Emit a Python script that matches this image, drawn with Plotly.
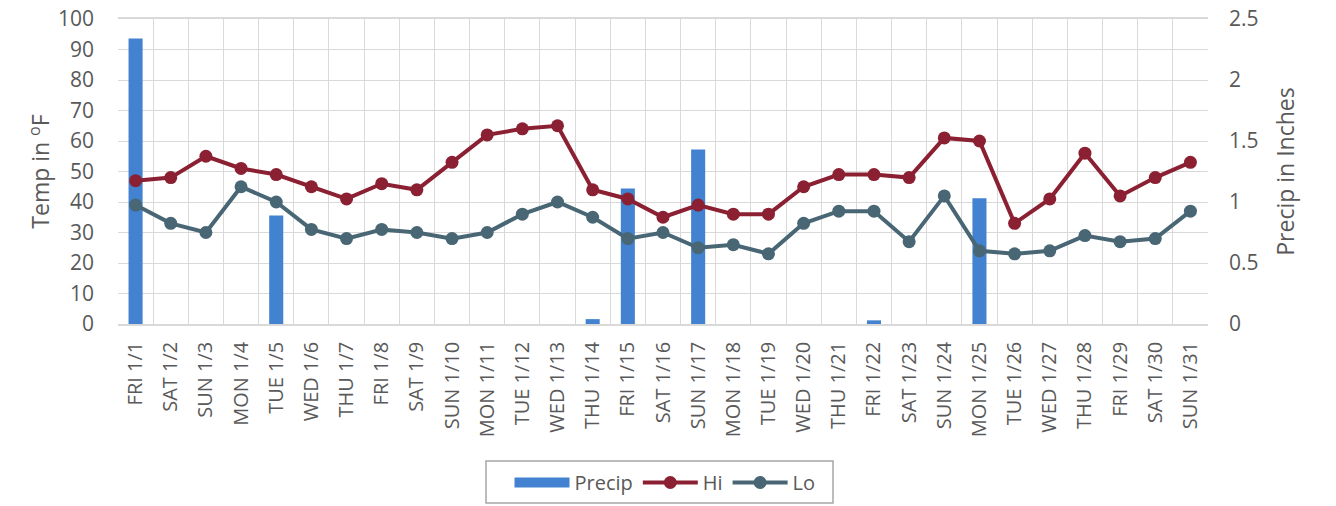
import plotly.graph_objects as go

days = ["FRI 1/1","SAT 1/2","SUN 1/3","MON 1/4","TUE 1/5","WED 1/6","THU 1/7","FRI 1/8","SAT 1/9","SUN 1/10",
        "MON 1/11","TUE 1/12","WED 1/13","THU 1/14","FRI 1/15","SAT 1/16","SUN 1/17","MON 1/18","TUE 1/19","WED 1/20",
        "THU 1/21","FRI 1/22","SAT 1/23","SUN 1/24","MON 1/25","TUE 1/26","WED 1/27","THU 1/28","FRI 1/29","SAT 1/30","SUN 1/31"]
hi = [47,48,55,51,49,45,41,46,44,53,62,64,65,44,41,35,39,36,36,45,49,49,48,61,60,33,41,56,42,48,53]
lo = [39,33,30,45,40,31,28,31,30,28,30,36,40,35,28,30,25,26,23,33,37,37,27,42,24,23,24,29,27,28,37]
precip = [2.34,0,0,0,0.89,0,0,0,0,0,0,0,0,0.04,1.11,0,1.43,0,0,0,0,0.03,0,0,1.03,0,0,0,0,0,0]

FONT = "Open Sans"
GRAY = "#595959"
GRID = "#D9D9D9"
BLUE = "#4282D0"
RED = "#8B2032"
SLATE = "#486674"

# page body has an 8px default margin; size the figure to fit the 1336x506 window
W, H = 1328, 498

fig = go.Figure()
fig.add_trace(go.Bar(x=days, y=precip, name="Precip", marker=dict(color=BLUE, line=dict(width=0)),
                     width=0.4, yaxis="y", showlegend=False))
# legend glyph for Precip (wide rectangle as in the reference)
fig.add_trace(go.Scatter(x=[None], y=[None], name="Precip", mode="lines", yaxis="y",
                         line=dict(color=BLUE, width=14)))
fig.add_trace(go.Scatter(x=days, y=hi, name="Hi", mode="lines+markers", yaxis="y2",
                         line=dict(color=RED, width=4), marker=dict(size=13, color=RED)))
fig.add_trace(go.Scatter(x=days, y=lo, name="Lo", mode="lines+markers", yaxis="y2",
                         line=dict(color=SLATE, width=4), marker=dict(size=13, color=SLATE)))

fig.update_layout(
    width=W, height=H, autosize=False,
    margin=dict(l=110, r=128, t=11, b=182, autoexpand=False),
    paper_bgcolor="white", plot_bgcolor="white",
    font=dict(family=FONT, color=GRAY),
    showlegend=True,
    legend=dict(orientation="h", xref="container", yref="container",
                x=657 / W, xanchor="center", y=1 - 455 / H, yanchor="top",
                bgcolor="rgba(0,0,0,0)", borderwidth=0, font=dict(size=20, color=GRAY),
                traceorder="normal", itemwidth=55),
    shapes=[dict(type="rect", xref="paper", yref="paper",
                 x0=(486 - 118) / 1090, x1=(833 - 118) / 1090,
                 y0=(324 - 503) / 305, y1=(324 - 461) / 305,
                 line=dict(color="#A6A6A6", width=1.5), fillcolor="rgba(0,0,0,0)", layer="above")],
    xaxis=dict(type="category", range=[-0.5, 30.5], tickson="boundaries", showgrid=True,
               gridcolor=GRID, gridwidth=1, tickangle=-90, tickfont=dict(size=20, color=GRAY),
               showline=True, linecolor=GRID, linewidth=1.5, mirror=True, ticks="",
               ticklabelstandoff=8, automargin=False),
    yaxis=dict(range=[0, 2.5], side="right", dtick=0.5, showgrid=False, zeroline=False,
               tickfont=dict(size=21, color=GRAY), ticklabelstandoff=20, automargin=False,
               ticklabeloverflow="allow",
               title=dict(text="Precip in Inches", font=dict(size=23, color=GRAY), standoff=20)),
    yaxis2=dict(range=[0, 100], side="left", overlaying="y", dtick=10, showgrid=True, gridcolor=GRID,
                gridwidth=1, zeroline=False, tickfont=dict(size=21, color=GRAY), ticklabelstandoff=23,
                automargin=False, ticklabeloverflow="allow",
                title=dict(text="Temp in <sup>o</sup>F", font=dict(size=23, color=GRAY), standoff=1)),
)

fig.write_html("out.html")
